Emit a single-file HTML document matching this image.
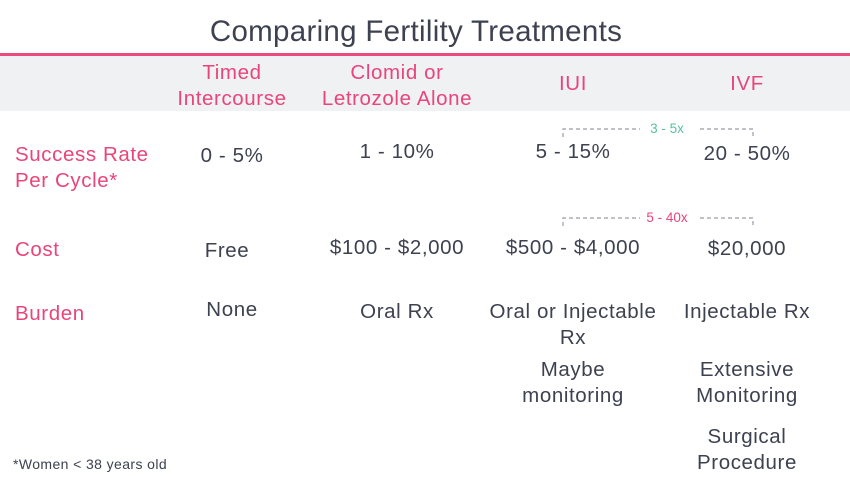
<!DOCTYPE html>
<html><head><style>
body{margin:0;width:850px;height:478px;background:#fff;position:relative;overflow:hidden;font-family:"Liberation Sans",sans-serif;color:#3d4150}
.t{position:absolute;white-space:nowrap;line-height:26px}
.c{transform:translateX(-50%);text-align:center}
.p{color:#e8457a}
.f20{font-size:20.5px;letter-spacing:0.6px}
</style></head><body>
<div class="t c" style="left:416px;top:14px;font-size:29.5px;line-height:36px;letter-spacing:0.3px">Comparing Fertility Treatments</div>
<div style="position:absolute;left:0;top:53px;width:850px;height:3px;background:#ea4a7e"></div>
<div style="position:absolute;left:0;top:56px;width:850px;height:55px;background:#f0f1f3"></div>
<div class="t c p f20" style="left:232px;top:60px">Timed<br>Intercourse</div>
<div class="t c p f20" style="left:397px;top:60px">Clomid or<br>Letrozole Alone</div>
<div class="t c p f20" style="left:573px;top:71px">IUI</div>
<div class="t c p f20" style="left:747px;top:71px">IVF</div>

<div class="t p f20" style="left:15px;top:142px">Success Rate<br>Per Cycle*</div>
<div class="t c f20" style="left:232px;top:143px">0 - 5%</div>
<div class="t c f20" style="left:397px;top:139px">1 - 10%</div>
<div class="t c f20" style="left:573px;top:139px">5 - 15%</div>
<div class="t c f20" style="left:747px;top:141px">20 - 50%</div>

<svg style="position:absolute;left:0;top:0" width="850" height="478">
<g stroke="#9a9ca6" stroke-width="1.2" fill="none" stroke-dasharray="4,3">
<path d="M563 137 V129 H640 M700 129 H753 V137"/>
<path d="M563 226 V218 H640 M700 218 H753 V226"/>
</g>
<text x="667" y="133" font-size="13.5" fill="#5bbfa3" text-anchor="middle" font-family="Liberation Sans">3 - 5x</text>
<text x="667" y="222" font-size="13.5" fill="#e8457a" text-anchor="middle" font-family="Liberation Sans">5 - 40x</text>
</svg>

<div class="t p f20" style="left:15px;top:237px">Cost</div>
<div class="t c f20" style="left:227px;top:238px">Free</div>
<div class="t c f20" style="left:397px;top:235px">$100 - $2,000</div>
<div class="t c f20" style="left:573px;top:235px">$500 - $4,000</div>
<div class="t c f20" style="left:747px;top:236px">$20,000</div>

<div class="t p f20" style="left:15px;top:301px">Burden</div>
<div class="t c f20" style="left:232px;top:297px">None</div>
<div class="t c f20" style="left:397px;top:299px">Oral Rx</div>
<div class="t c f20" style="left:573px;top:299px">Oral or Injectable<br>Rx</div>
<div class="t c f20" style="left:573px;top:357px">Maybe<br>monitoring</div>
<div class="t c f20" style="left:747px;top:299px">Injectable Rx</div>
<div class="t c f20" style="left:747px;top:357px">Extensive<br>Monitoring</div>
<div class="t c f20" style="left:747px;top:424px">Surgical<br>Procedure</div>

<div class="t" style="left:13px;top:451px;font-size:14px;letter-spacing:0.4px">*Women &lt; 38 years old</div>
</body></html>
